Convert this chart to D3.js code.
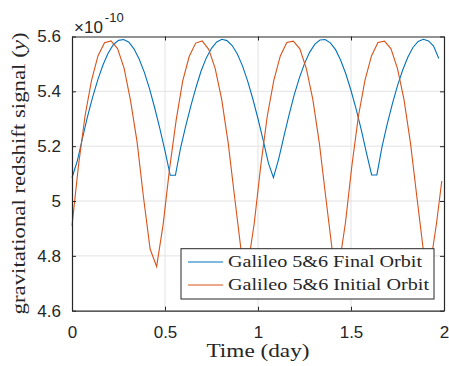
<!DOCTYPE html>
<html>
<head>
<meta charset="utf-8">
<script src="https://cdnjs.cloudflare.com/ajax/libs/d3/7.8.5/d3.min.js"></script>
<style>
  html, body { margin: 0; padding: 0; background: #fff; }
  .tick text { font-family: "Liberation Sans", Arial, sans-serif; font-size: 17px; fill: #262626; }
  .serif { font-family: "Liberation Serif", "Times New Roman", serif; fill: #262626; }
</style>
</head>
<body>
<div id="chart"></div>
<script>
// time (day) and signal (x 1e-10)
const finalTime = [0, 0.028, 0.056, 0.083, 0.111, 0.139, 0.167, 0.194, 0.222, 0.25, 0.278, 0.306, 0.333, 0.361, 0.389, 0.417, 0.444, 0.472, 0.5, 0.528, 0.556, 0.583, 0.611, 0.639, 0.667, 0.694, 0.722, 0.75, 0.778, 0.806, 0.833, 0.861, 0.889, 0.917, 0.944, 0.972, 1.0, 1.028, 1.056, 1.083, 1.111, 1.139, 1.167, 1.194, 1.222, 1.25, 1.278, 1.306, 1.333, 1.361, 1.389, 1.417, 1.444, 1.472, 1.5, 1.528, 1.556, 1.583, 1.611, 1.639, 1.667, 1.694, 1.722, 1.75, 1.778, 1.806, 1.833, 1.861, 1.889, 1.917, 1.944, 1.972];
const finalOrbit = [5.085, 5.145, 5.228, 5.307, 5.379, 5.443, 5.497, 5.539, 5.570, 5.586, 5.589, 5.579, 5.555, 5.518, 5.469, 5.409, 5.341, 5.265, 5.183, 5.094, 5.094, 5.191, 5.272, 5.347, 5.415, 5.474, 5.522, 5.557, 5.580, 5.590, 5.585, 5.567, 5.536, 5.492, 5.438, 5.373, 5.300, 5.221, 5.138, 5.085, 5.153, 5.235, 5.314, 5.385, 5.448, 5.501, 5.543, 5.572, 5.587, 5.589, 5.577, 5.552, 5.514, 5.464, 5.403, 5.334, 5.258, 5.176, 5.095, 5.095, 5.198, 5.279, 5.353, 5.421, 5.478, 5.525, 5.560, 5.582, 5.590, 5.584, 5.565, 5.520];

const initialTime = [0, 0.035, 0.07, 0.105, 0.14, 0.175, 0.21, 0.245, 0.28, 0.315, 0.35, 0.385, 0.42, 0.455, 0.49, 0.525, 0.56, 0.595, 0.63, 0.665, 0.7, 0.735, 0.77, 0.805, 0.84, 0.875, 0.91, 0.945, 0.98, 1.015, 1.05, 1.085, 1.12, 1.155, 1.19, 1.225, 1.26, 1.295, 1.33, 1.365, 1.4, 1.435, 1.47, 1.505, 1.54, 1.575, 1.61, 1.645, 1.68, 1.715, 1.75, 1.785, 1.82, 1.855, 1.89, 1.925, 1.96, 1.988];
const initialOrbit = [4.910, 5.130, 5.310, 5.440, 5.530, 5.577, 5.584, 5.556, 5.485, 5.365, 5.215, 5.010, 4.825, 4.761, 4.915, 5.120, 5.295, 5.437, 5.527, 5.576, 5.584, 5.553, 5.483, 5.370, 5.210, 5.010, 4.815, 4.760, 4.920, 5.130, 5.310, 5.440, 5.529, 5.578, 5.583, 5.555, 5.483, 5.370, 5.210, 5.010, 4.815, 4.760, 4.920, 5.130, 5.310, 5.440, 5.529, 5.578, 5.583, 5.555, 5.483, 5.370, 5.210, 5.010, 4.815, 4.760, 4.920, 5.073];

const xTicks = [0, 0.5, 1, 1.5, 2];
const yTicks = [4.6, 4.8, 5, 5.2, 5.4, 5.6];
const seriesNames = ["Galileo 5&6 Final Orbit", "Galileo 5&6 Initial Orbit"];
const seriesColors = ["#0072bd", "#d95319"];

const width = 449, height = 366;
const margin = { top: 36.5, right: 5, bottom: 55.3, left: 72 };

const svg = d3.select("#chart").append("svg")
  .attr("width", width)
  .attr("height", height);

const x = d3.scaleLinear().domain([0, 2]).range([margin.left, width - margin.right]);
const y = d3.scaleLinear().domain([4.6, 5.6]).range([height - margin.bottom, margin.top]);
const fmt = d3.format("~g");

// grid
svg.append("g").selectAll("line").data(xTicks.slice(1, -1)).enter().append("line")
  .attr("x1", d => x(d)).attr("x2", d => x(d))
  .attr("y1", y(4.6)).attr("y2", y(5.6))
  .attr("stroke", "#e3e3e3").attr("stroke-width", 1);
svg.append("g").selectAll("line").data(yTicks.slice(1, -1)).enter().append("line")
  .attr("x1", x(0)).attr("x2", x(2))
  .attr("y1", d => y(d)).attr("y2", d => y(d))
  .attr("stroke", "#e3e3e3").attr("stroke-width", 1);

// lines
const line = d3.line().x(d => x(d[0])).y(d => y(d[1]));
const series = [d3.zip(finalTime, finalOrbit), d3.zip(initialTime, initialOrbit)];
series.forEach((s, i) => {
  svg.append("path").datum(s)
    .attr("fill", "none")
    .attr("stroke", seriesColors[i])
    .attr("stroke-width", 1.1)
    .attr("d", line);
});

// axes, ticks pointing inward
const axisColor = "#262626";
function styleAxis(g) {
  g.select(".domain").attr("stroke", axisColor).attr("stroke-width", 1.2);
  g.selectAll(".tick line").attr("stroke", axisColor);
}
svg.append("g")
  .attr("transform", "translate(0," + y(4.6) + ")")
  .call(d3.axisBottom(x).tickValues(xTicks).tickFormat(fmt).tickSize(-4).tickSizeOuter(0).tickPadding(15))
  .call(styleAxis);
svg.append("g")
  .attr("transform", "translate(0," + y(5.6) + ")")
  .call(d3.axisTop(x).tickValues(xTicks).tickFormat("").tickSize(-4).tickSizeOuter(0))
  .call(styleAxis);
svg.append("g")
  .attr("transform", "translate(" + x(0) + ",0)")
  .call(d3.axisLeft(y).tickValues(yTicks).tickFormat(fmt).tickSize(-4).tickSizeOuter(0).tickPadding(11))
  .call(styleAxis);
svg.append("g")
  .attr("transform", "translate(" + x(2) + ",0)")
  .call(d3.axisRight(y).tickValues(yTicks).tickFormat("").tickSize(-4).tickSizeOuter(0))
  .call(styleAxis);
svg.selectAll(".tick text").attr("fill", axisColor);

// exponent
const expo = svg.append("text")
  .attr("x", 74).attr("y", 32.5)
  .style("font-family", "Liberation Sans, Arial, sans-serif")
  .style("font-size", "17px").attr("fill", axisColor);
expo.append("tspan").text("\u00d710");
expo.append("tspan").attr("dx", 2).attr("dy", -11).style("font-size", "13px").text("-10");

// axis labels
svg.append("text").attr("class", "serif")
  .attr("x", x(1)).attr("y", 357)
  .attr("text-anchor", "middle")
  .style("font-size", "18px")
  .attr("textLength", 103).attr("lengthAdjust", "spacingAndGlyphs")
  .text("Time (day)");

const yl = svg.append("text").attr("class", "serif")
  .attr("transform", "translate(25,173.5) rotate(-90)")
  .attr("text-anchor", "middle")
  .style("font-size", "18px")
  .attr("textLength", 282).attr("lengthAdjust", "spacingAndGlyphs");
yl.append("tspan").text("gravitational redshift signal (");
yl.append("tspan").style("font-style", "italic").text("y");
yl.append("tspan").text(")");

// legend
const legend = svg.append("g").attr("transform", "translate(181,248.7)");
legend.append("rect")
  .attr("width", 253).attr("height", 50.3)
  .attr("fill", "#fff").attr("stroke", axisColor).attr("stroke-width", 1);
seriesNames.forEach((name, i) => {
  const ry = 13.3 + i * 23;
  legend.append("line")
    .attr("x1", 7).attr("x2", 42).attr("y1", ry).attr("y2", ry)
    .attr("stroke", seriesColors[i]).attr("stroke-width", 1.1);
  legend.append("text").attr("class", "serif")
    .attr("x", 47).attr("y", ry + 5.5)
    .style("font-size", "17px")
    .attr("textLength", i === 0 ? 194 : 201).attr("lengthAdjust", "spacingAndGlyphs")
    .text(name);
});
</script>
</body>
</html>
